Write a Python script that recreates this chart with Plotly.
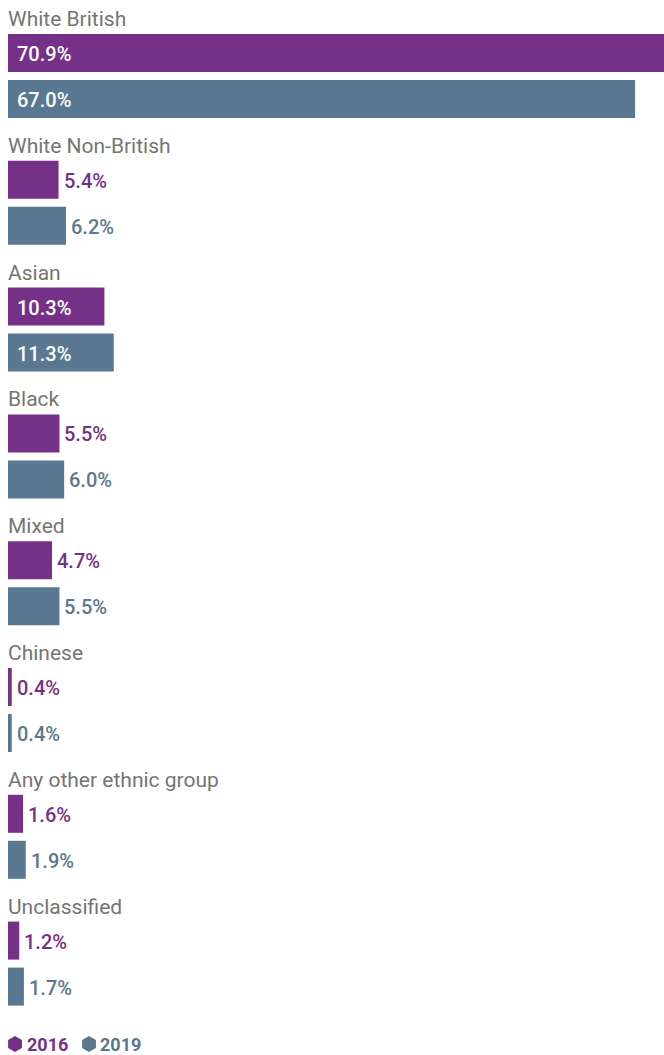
import plotly.graph_objects as go

# Share of pupils by ethnic group, 2016 vs 2019
categories = ["White British", "White Non-British", "Asian", "Black", "Mixed",
              "Chinese", "Any other ethnic group", "Unclassified"]
share_2016 = [70.9, 5.4, 10.3, 5.5, 4.7, 0.4, 1.6, 1.2]
share_2019 = [67.0, 6.2, 11.3, 6.0, 5.5, 0.4, 1.9, 1.7]
years = ["2016", "2019"]

PURPLE = "#753188"
SLATE = "#5A7891"
GREY = "#757575"
FONT = "Roboto"

W, H = 664, 1055
ROW = 126.8          # vertical space taken by one ethnic group (y is in px units)
LABEL_Y = 19         # label centre within a group
BAR1_Y = 53          # 2016 bar centre within a group
BAR2_Y = 99          # 2019 bar centre within a group
BAR_H = 38
PX_PER_PCT = 9.36
LEFT = 8
LEGEND_Y = 1044

def positions(offset):
    return [i * ROW + offset for i in range(len(categories))]

def px_to_x(px):
    return (px - LEFT) / PX_PER_PCT

fig = go.Figure()
for vals, y0, color in [(share_2016, BAR1_Y, PURPLE), (share_2019, BAR2_Y, SLATE)]:
    ys = positions(y0)
    fig.add_trace(go.Bar(
        x=vals, y=ys, orientation="h", width=BAR_H,
        marker=dict(color=color, line=dict(width=0)),
        showlegend=False, hoverinfo="skip",
    ))
    # value labels: inside (white) for long bars, just past the end otherwise
    for v, y in zip(vals, ys):
        inside = v >= 10
        fig.add_annotation(
            x=0 if inside else v, y=y, xref="x", yref="y",
            text=f"{v:.1f}%", showarrow=False,
            xanchor="left", yanchor="middle",
            xshift=7 if inside else 3, yshift=-1,
            font=dict(family=FONT, size=20, weight=500,
                      color="white" if inside else color),
        )

for i, cat in enumerate(categories):
    fig.add_annotation(
        x=0, y=i * ROW + LABEL_Y, xref="x", yref="y", text=cat,
        showarrow=False, xanchor="left", yanchor="middle", xshift=-2,
        font=dict(family=FONT, size=21, color=GREY),
    )

# legend: hexagon swatch followed by the year in bold
legend_marker_px = [15, 89]
legend_text_px = [25, 98]
fig.add_trace(go.Scatter(
    x=[px_to_x(p) for p in legend_marker_px], y=[LEGEND_Y, LEGEND_Y],
    mode="markers", cliponaxis=False, showlegend=False, hoverinfo="skip",
    marker=dict(symbol="hexagon", size=16, color=[PURPLE, SLATE], line=dict(width=0)),
))
for year, color, p in zip(years, [PURPLE, SLATE], legend_text_px):
    fig.add_annotation(
        x=px_to_x(p), y=LEGEND_Y, xref="x", yref="y", text=f"<b>{year}</b>",
        showarrow=False, xanchor="left", yanchor="middle",
        font=dict(family=FONT, size=18, color=color),
    )

fig.update_layout(
    width=W, height=H,
    margin=dict(l=LEFT, r=0, t=0, b=0, autoexpand=False),
    paper_bgcolor="white", plot_bgcolor="white",
    barmode="overlay", showlegend=False,
    xaxis=dict(range=[0, px_to_x(W)], visible=False, fixedrange=True),
    yaxis=dict(range=[H, 0], visible=False, fixedrange=True),
)

fig.write_html("out.html")
